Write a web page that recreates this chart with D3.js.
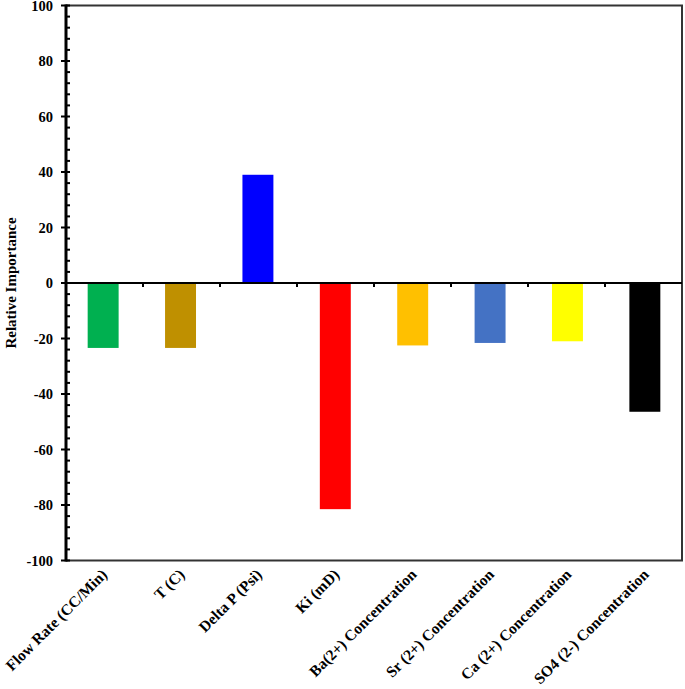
<!DOCTYPE html>
<html>
<head>
  <meta charset="utf-8">
  <title>Relative Importance</title>
  <script src="https://d3js.org/d3.v7.min.js"></script>
  <style>
    body { margin: 0; background: #fff; }
    svg text { font-family: "Liberation Serif", "Times New Roman", serif; font-weight: bold; fill: #000; }
  </style>
</head>
<body>
  <div id="chart"></div>
  <script>
    // data
    var categories = ["Flow Rate (CC/Min)", "T (C)", "Delta P (Psi)", "Ki (mD)",
      "Ba(2+) Concentration", "Sr (2+) Concentration", "Ca (2+) Concentration", "SO4 (2-) Concentration"];
    var values = [-23.4, -23.4, 39.0, -81.5, -22.5, -21.6, -21.0, -46.4];
    var barColors = ["#00B050", "#BF9000", "#0000FF", "#FF0000", "#FFC000", "#4472C4", "#FFFF00", "#000000"];
    var yTicks = [-100, -80, -60, -40, -20, 0, 20, 40, 60, 80, 100];

    var W = 685, H = 689;
    var plotL = 66, plotR = 682, plotT = 5.5, plotB = 560.5;

    var svg = d3.select("#chart").append("svg")
      .attr("width", W)
      .attr("height", H);

    var x = d3.scaleBand()
      .domain(categories)
      .range([plotL, plotR])
      .paddingInner(0.6)
      .paddingOuter(0.28);

    var y = d3.scaleLinear()
      .domain([-100, 100])
      .range([plotB, plotT]);

    // frame (top, right, bottom)
    svg.append("path")
      .attr("d", "M" + plotL + "," + plotT + "H" + plotR + "V" + plotB + "H" + plotL)
      .attr("fill", "none")
      .attr("stroke", "#333")
      .attr("stroke-width", 2);

    // bars
    svg.selectAll(".bar")
      .data(values)
      .join("rect")
      .attr("class", "bar")
      .attr("x", function (d, i) { return x(categories[i]); })
      .attr("y", function (d) { return y(Math.max(0, d)); })
      .attr("width", x.bandwidth())
      .attr("height", function (d) { return Math.abs(y(d) - y(0)); })
      .attr("fill", function (d, i) { return barColors[i]; });

    // zero line with ticks between categories
    var bounds = d3.range(1, categories.length).map(function (i) { return plotL + i * (plotR - plotL) / categories.length; });
    svg.append("line")
      .attr("x1", plotL).attr("x2", plotR)
      .attr("y1", y(0)).attr("y2", y(0))
      .attr("stroke", "#000").attr("stroke-width", 2);
    svg.selectAll(".ztick")
      .data(bounds)
      .join("line")
      .attr("class", "ztick")
      .attr("x1", function (d) { return d; }).attr("x2", function (d) { return d; })
      .attr("y1", y(0)).attr("y2", y(0) + 4)
      .attr("stroke", "#000").attr("stroke-width", 2);

    // y axis
    var yAxis = svg.append("g")
      .attr("transform", "translate(" + plotL + ",0)");
    yAxis.append("line")
      .attr("x1", 0).attr("x2", 0)
      .attr("y1", plotT - 1).attr("y2", plotB + 1)
      .attr("stroke", "#000").attr("stroke-width", 3);

    var minor = d3.range(-100, 101, 4).filter(function (v) { return v % 20 !== 0; });
    yAxis.selectAll(".minor")
      .data(minor)
      .join("line")
      .attr("class", "minor")
      .attr("x1", 0).attr("x2", 4)
      .attr("y1", function (d) { return y(d); }).attr("y2", function (d) { return y(d); })
      .attr("stroke", "#000").attr("stroke-width", 2);
    yAxis.selectAll(".major")
      .data(yTicks)
      .join("line")
      .attr("class", "major")
      .attr("x1", -5).attr("x2", 4)
      .attr("y1", function (d) { return y(d); }).attr("y2", function (d) { return y(d); })
      .attr("stroke", "#000").attr("stroke-width", 2);
    yAxis.selectAll(".ylab")
      .data(yTicks)
      .join("text")
      .attr("class", "ylab")
      .attr("x", -13)
      .attr("y", function (d) { return y(d); })
      .attr("dy", "0.35em")
      .attr("text-anchor", "end")
      .style("font-size", "14.5px")
      .text(function (d) { return d; });

    svg.append("text")
      .attr("transform", "translate(16," + y(0) + ") rotate(-90)")
      .attr("text-anchor", "middle")
      .style("font-size", "15px")
      .text("Relative Importance");

    // x labels
    svg.selectAll(".xlab")
      .data(categories)
      .join("text")
      .attr("class", "xlab")
      .attr("transform", function (d) {
        return "translate(" + (x(d) + x.bandwidth() / 2 + 5) + "," + (plotB + 15) + ") rotate(-45)";
      })
      .attr("text-anchor", "end")
      .style("font-size", "15.5px")
      .text(function (d) { return d; });
  </script>
</body>
</html>
